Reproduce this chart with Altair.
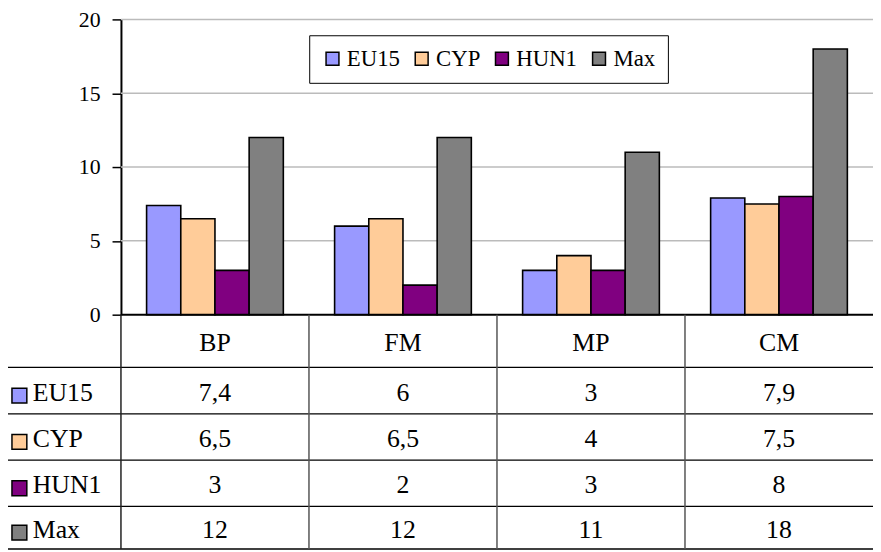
import altair as alt
import pandas as pd

# ---------------- data ----------------
CATEGORIES = ["BP", "FM", "MP", "CM"]
SERIES = ["EU15", "CYP", "HUN1", "Max"]
EU15 = [7.4, 6, 3, 7.9]
CYP = [6.5, 6.5, 4, 7.5]
HUN1 = [3, 2, 3, 8]
MAX = [12, 12, 11, 18]
COLORS = ["#9999FF", "#FFCC99", "#800080", "#808080"]
Y_TICKS = [0, 5, 10, 15, 20]
GRID_TICKS = [5, 10, 15, 20]

SERIES_VALUES = {"EU15": EU15, "CYP": CYP, "HUN1": HUN1, "Max": MAX}

# ---------------- layout ----------------
W = 759          # plot width (4 category columns)
H = 535          # plot + data table height
PLOT_H = 298     # bar area height
COL_PX = W / len(CATEGORIES)
FONT = "Liberation Serif"

# data-table geometry in column / row units
LABEL_LEFT = -117 / COL_PX
LABEL_KEY_X = -102.5 / COL_PX
LABEL_TEXT_X = -89 / COL_PX
ROW_EDGES = [0, 1.14, 2.14, 3.14, 4.14, 5.06]
ROW_CENTERS = [(ROW_EDGES[i] + ROW_EDGES[i + 1]) / 2 for i in range(5)]


def fmt(v):
    return f"{v:g}".replace(".", ",")


bar_rows = []
for s in SERIES:
    for c, v in zip(CATEGORIES, SERIES_VALUES[s]):
        bar_rows.append({"cat": c, "series": s, "value": v})
bar_df = pd.DataFrame(bar_rows)

bars = alt.Chart(bar_df).mark_bar(stroke="black", strokeWidth=1.6).encode(
    x=alt.X("cat:N", sort=CATEGORIES,
            scale=alt.Scale(paddingInner=0, paddingOuter=0), axis=None),
    xOffset=alt.XOffset("series:N", sort=SERIES,
                        scale=alt.Scale(paddingInner=0, paddingOuter=0.75)),
    y=alt.Y("value:Q",
            scale=alt.Scale(domain=[0, 20], range=[PLOT_H, 0], nice=False),
            axis=alt.Axis(values=Y_TICKS, title=None, grid=False,
                          domainColor="black", domainWidth=2,
                          tickColor="black", tickSize=9, tickWidth=1.5,
                          labelFont=FONT, labelFontSize=22, labelColor="black",
                          labelPadding=12)),
    color=alt.Color("series:N", sort=SERIES,
                    scale=alt.Scale(domain=SERIES, range=COLORS),
                    legend=alt.Legend(orient="none", legendX=190, legendY=16,
                                      direction="horizontal", title=None,
                                      strokeColor="black", fillColor="white",
                                      padding=12, symbolType="square",
                                      symbolSize=169, symbolStrokeColor="black",
                                      symbolStrokeWidth=1.5, symbolOpacity=1,
                                      labelFont=FONT, labelFontSize=23,
                                      labelColor="black", labelOffset=3,
                                      columnPadding=10)),
)

# gridlines (drawn on the bar scale)
grid_df = pd.DataFrame({"g": GRID_TICKS})
grid = alt.Chart(grid_df).mark_rule(color="#BBBBBB", strokeWidth=1.5).encode(
    y=alt.Y("g:Q", scale=alt.Scale(domain=[0, 20], range=[PLOT_H, 0], nice=False),
            axis=None),
    x=alt.value(0), x2=alt.value(W),
)

# ---------------- data table ----------------
xs = alt.Scale(domain=[0, len(CATEGORIES)], nice=False, zero=False)
ys = alt.Scale(domain=[0, ROW_EDGES[-1]], range=[PLOT_H, H - 0.5], nice=False, zero=False)

h_rows = [{"y": ROW_EDGES[0], "x0": 0, "x1": len(CATEGORIES), "w": 2}]
for e in ROW_EDGES[1:]:
    h_rows.append({"y": e, "x0": LABEL_LEFT, "x1": len(CATEGORIES), "w": 1.3})
h_df = pd.DataFrame(h_rows)
hlines = alt.Chart(h_df).mark_rule(color="black").encode(
    x=alt.X("x0:Q", scale=xs, axis=None), x2="x1:Q",
    y=alt.Y("y:Q", scale=ys, axis=None),
    strokeWidth=alt.StrokeWidth("w:Q", scale=None),
)

v_df = pd.DataFrame({
    "x": [LABEL_LEFT, 0] + [i for i in range(1, len(CATEGORIES))],
    "y0": [ROW_EDGES[1], 0] + [0] * (len(CATEGORIES) - 1),
    "y1": [ROW_EDGES[-1]] * (len(CATEGORIES) + 1),
    "c": ["#333333", "#222222"] + ["#555555"] * (len(CATEGORIES) - 1),
})
vlines = alt.Chart(v_df).mark_rule(strokeWidth=1.5).encode(
    x=alt.X("x:Q", scale=xs, axis=None),
    y=alt.Y("y0:Q", scale=ys, axis=None), y2="y1:Q",
    color=alt.Color("c:N", scale=None, legend=None),
)

text_rows = []
for i, c in enumerate(CATEGORIES):
    text_rows.append({"x": i + 0.5, "y": ROW_CENTERS[0], "t": c})
for r, s in enumerate(SERIES):
    for i, v in enumerate(SERIES_VALUES[s]):
        text_rows.append({"x": i + 0.5, "y": ROW_CENTERS[r + 1], "t": fmt(v)})
text_df = pd.DataFrame(text_rows)
cell_text = alt.Chart(text_df).mark_text(
    font=FONT, fontSize=26, color="black", align="center", baseline="middle", dy=2
).encode(
    x=alt.X("x:Q", scale=xs, axis=None),
    y=alt.Y("y:Q", scale=ys, axis=None),
    text="t:N",
)

lab_df = pd.DataFrame({
    "x": [LABEL_TEXT_X] * len(SERIES),
    "kx": [LABEL_KEY_X] * len(SERIES),
    "y": ROW_CENTERS[1:],
    "series": SERIES,
})
label_text = alt.Chart(lab_df).mark_text(
    font=FONT, fontSize=26, color="black", align="left", baseline="middle", dy=2
).encode(
    x=alt.X("x:Q", scale=xs, axis=None),
    y=alt.Y("y:Q", scale=ys, axis=None),
    text="series:N",
)
label_keys = alt.Chart(lab_df).mark_square(
    size=225, stroke="black", strokeWidth=1.5, opacity=1, yOffset=5
).encode(
    x=alt.X("kx:Q", scale=xs, axis=None),
    y=alt.Y("y:Q", scale=ys, axis=None),
    fill=alt.Fill("series:N", scale=alt.Scale(domain=SERIES, range=COLORS), legend=None),
)

table = alt.layer(hlines, vlines, cell_text, label_text, label_keys)

chart = alt.layer(grid, bars, table).resolve_scale(
    x="independent", y="independent"
).properties(
    width=W, height=H,
    autosize=alt.AutoSizeParams(type="none"),
    padding={"left": 114, "top": 9, "right": 0, "bottom": 0},
    background="white",
).configure_view(stroke=None)

chart.save("out.html", embed_options={"renderer": "svg", "actions": False})
